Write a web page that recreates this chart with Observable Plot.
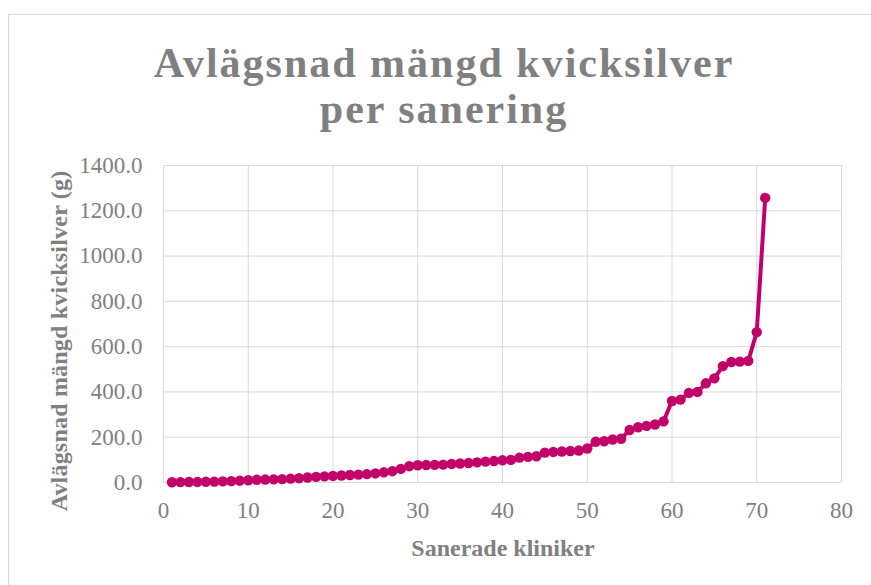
<!DOCTYPE html>
<html>
<head>
<meta charset="utf-8">
<script src="https://cdn.jsdelivr.net/npm/d3@7"></script>
<script src="https://cdn.jsdelivr.net/npm/@observablehq/plot@0.6"></script>
<style>
  body { margin: 0; background: #fff; }
  #wrap { position: relative; width: 871px; height: 585px; overflow: hidden; font-family: "Liberation Serif", "Times New Roman", serif; }
  #border { position: absolute; left: 8px; top: 14px; width: 880px; height: 600px; border: 1px solid #d9d9d9; box-sizing: border-box; }
  #title { position: absolute; left: 0; top: 40px; width: 888px; text-align: center; color: #808080; font-weight: bold; font-size: 42px; line-height: 46px; letter-spacing: 2px; }
  #ytitle { position: absolute; left: 59px; top: 341px; transform: translate(-50%, -50%) rotate(-90deg); white-space: nowrap; color: #808080; font-weight: bold; font-size: 24px; letter-spacing: 0.2px; }
  #xtitle { position: absolute; left: 503px; top: 548px; transform: translate(-50%, -50%); white-space: nowrap; color: #808080; font-weight: bold; font-size: 24px; }
  #chart { position: absolute; left: 0; top: 0; }
</style>
</head>
<body>
<div id="wrap">
  <div id="border"></div>
  <div id="chart"></div>
  <div id="title">Avlägsnad mängd kvicksilver<br>per sanering</div>
  <div id="ytitle">Avlägsnad mängd kvicksilver (g)</div>
  <div id="xtitle">Sanerade kliniker</div>
</div>
<script>
const clinics = d3.range(1, 72);
const mercury = [1, 1.5, 2, 2.5, 3, 4, 5, 6, 8, 10,
  12, 13, 14, 15, 17, 19, 22, 25, 27, 29,
  31, 33, 35, 37, 40, 45, 50, 60, 72, 76,
  77, 78, 79, 82, 84, 86, 89, 92, 95, 98,
  100, 110, 113, 116, 132, 135, 137, 139, 141, 150,
  180, 182, 190, 193, 232, 244, 250, 256, 270, 360,
  366, 396, 400, 438, 460, 514, 532, 534, 537, 664,
  1257];
const xTicks = [0, 10, 20, 30, 40, 50, 60, 70, 80];
const yTicks = [0, 200, 400, 600, 800, 1000, 1200, 1400];

const data = clinics.map((c, i) => ({clinic: c, value: mercury[i]}));
const color = "#c20069";
const grey = "#808080";

const chart = Plot.plot({
  width: 871,
  height: 585,
  marginLeft: 163,
  marginRight: 30,
  marginTop: 165,
  marginBottom: 103,
  style: {fontFamily: "'Liberation Serif', 'Times New Roman', serif", background: "transparent"},
  x: {domain: [0, 80], ticks: xTicks},
  y: {domain: [0, 1400], ticks: yTicks},
  marks: [
    Plot.gridX(xTicks, {stroke: "#d9d9d9", strokeOpacity: 1, strokeWidth: 1}),
    Plot.gridY(yTicks, {stroke: "#d9d9d9", strokeOpacity: 1, strokeWidth: 1}),
    Plot.axisX(xTicks, {tickSize: 0, tickPadding: 19, fontSize: 23, fill: grey, label: null}),
    Plot.axisY(yTicks, {tickSize: 0, tickPadding: 21, fontSize: 23, fill: grey, label: null, tickFormat: d => d.toFixed(1)}),
    Plot.line(data, {x: "clinic", y: "value", stroke: color, strokeWidth: 4, strokeLinejoin: "round"}),
    Plot.dot(data, {x: "clinic", y: "value", r: 5.2, fill: color, stroke: "none"})
  ]
});
document.getElementById("chart").appendChild(chart);
</script>
</body>
</html>
